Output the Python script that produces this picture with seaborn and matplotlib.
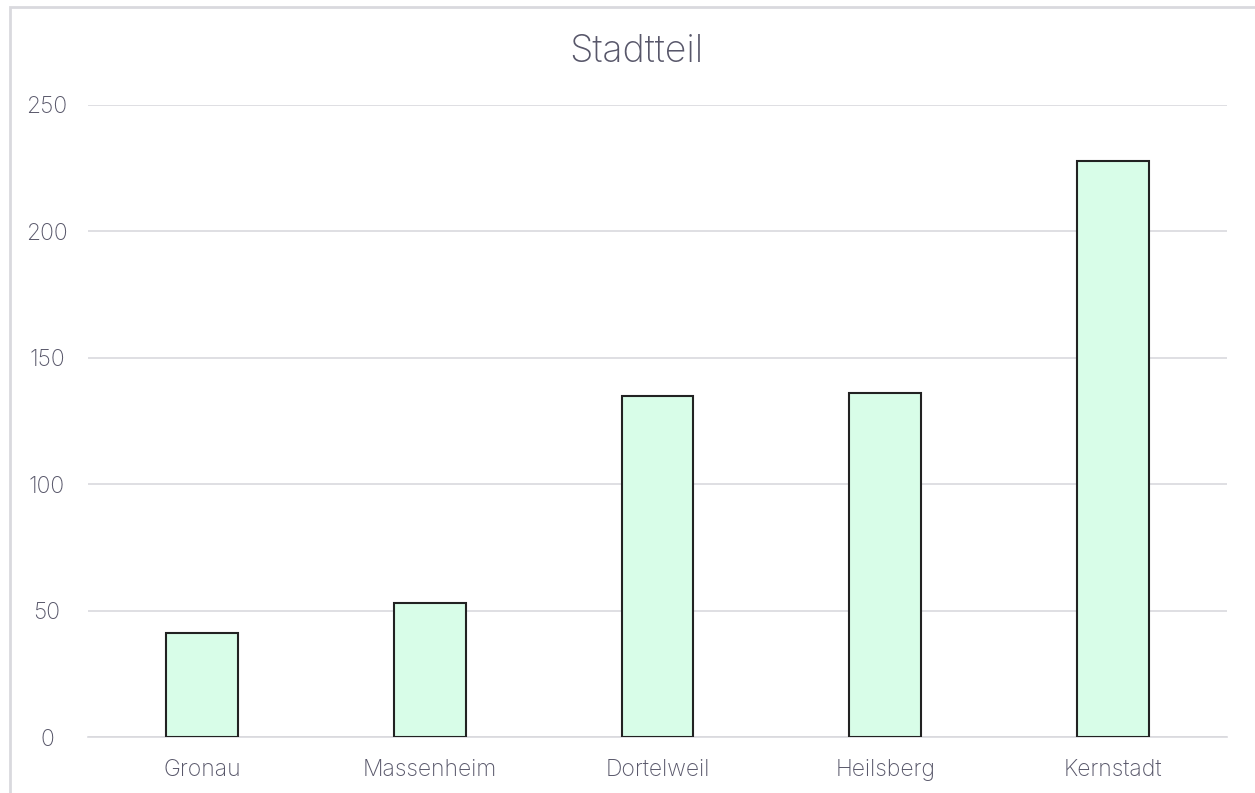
import matplotlib
matplotlib.use("Agg")
import matplotlib.pyplot as plt
import seaborn as sns
import pandas as pd
from matplotlib.patches import Rectangle

# data
stadtteile = ["Gronau", "Massenheim", "Dortelweil", "Heilsberg", "Kernstadt"]
anzahl = [41, 53, 135, 136, 228]
y_ticks = [0, 50, 100, 150, 200, 250]

df = pd.DataFrame({"Stadtteil": stadtteile, "Anzahl": anzahl})

sns.set_theme(style="white")
plt.rcParams["font.family"] = ["Inter", "DejaVu Sans"]

text_color = "#58576a"
grid_color = "#d9d9de"

fig = plt.figure(figsize=(12.55, 7.93), dpi=100)
ax = fig.add_axes([0.0701, 0.0706, 0.9076, 0.797])

sns.barplot(
    data=df,
    x="Stadtteil",
    y="Anzahl",
    color="#d8fde8",
    edgecolor="#222222",
    linewidth=1.5,
    width=0.316,
    saturation=1,
    ax=ax,
    zorder=3,
)

ax.set_ylim(0, 250)
ax.set_yticks(y_ticks)
ax.set_xlim(-0.5, len(stadtteile) - 0.5)
ax.yaxis.grid(True, color=grid_color, linewidth=1.2, zorder=0)
ax.set_axisbelow(True)
for side in ["top", "right", "left"]:
    ax.spines[side].set_visible(False)
ax.spines["bottom"].set_color(grid_color)
ax.spines["bottom"].set_linewidth(1.2)

ax.tick_params(axis="both", length=0, labelsize=16.5, labelcolor=text_color)
ax.tick_params(axis="y", pad=29.5)
ax.tick_params(axis="x", pad=16)
for lbl in ax.get_yticklabels() + ax.get_xticklabels():
    lbl.set_fontweight("light")
for lbl in ax.get_yticklabels():
    lbl.set_horizontalalignment("center")
ax.set_xlabel("")
ax.set_ylabel("")

fig.text(636 / 1255, 0.935, "Stadtteil", ha="center", va="center",
         fontsize=27, color=text_color, fontweight="light")

# light outer frame of the chart area
fig.patches.append(Rectangle((10 / 1255, -0.05), 1.1, 1 - 7 / 793 + 0.05,
                             transform=fig.transFigure, fill=False,
                             edgecolor=grid_color, linewidth=2))

fig.savefig("out.png", dpi=100)
plt.close(fig)
